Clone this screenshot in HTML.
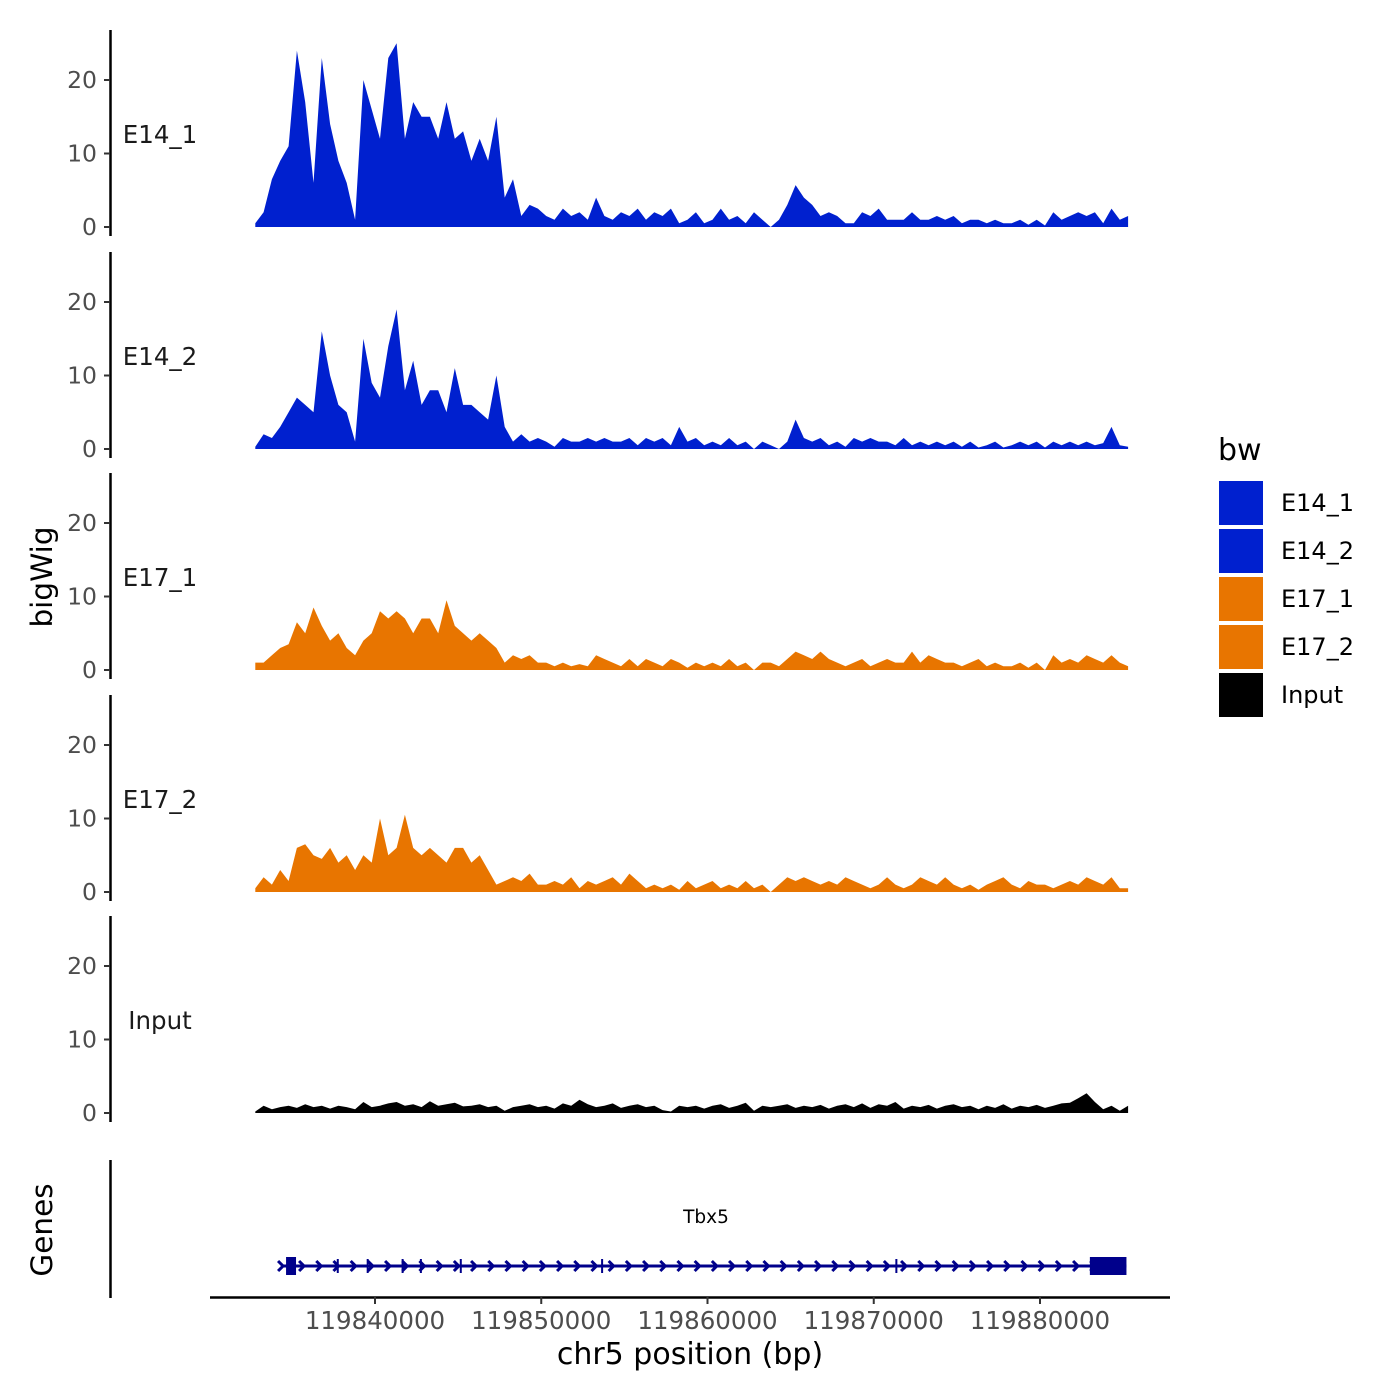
<!DOCTYPE html>
<html><head><meta charset="utf-8"><style>
body{margin:0;background:#fff}
svg{display:block;font-family:"DejaVu Sans","Liberation Sans",sans-serif}
</style></head><body>
<svg id="chart" width="1400" height="1400" viewBox="0 0 1400 1400">
<g id="panels"></g>
<g id="genes"></g>
<g id="xaxis"></g>
<text x="52" y="577" font-size="29.5" text-anchor="middle" transform="rotate(-90 52 577)">bigWig</text>
<text x="52" y="1230" font-size="29.5" text-anchor="middle" transform="rotate(-90 52 1230)">Genes</text>
<text x="690" y="1364" font-size="30" text-anchor="middle">chr5 position (bp)</text>
<g id="legend"></g>
</svg>
<script>
const binStart = 119832800;
const binSize = 500;
const trackNames = ["E14_1","E14_2","E17_1","E17_2","Input"];
const trackColors = ["#0020CF","#0020CF","#E87500","#E87500","#000000"];
const legendNames = ["E14_1","E14_2","E17_1","E17_2","Input"];
const yTicks = [0,10,20];
const xTicks = [119840000,119850000,119860000,119870000,119880000];
const xTickLabels = ["119840000","119850000","119860000","119870000","119880000"];
const e14_1 = [0.5,2,6.5,9,11,24,17,6,23,14,9,6,1,20,16,12,23,25,12,17,15,15,12,17,12,13,9,12,9,15,4,6.5,1.5,3,2.5,1.5,1,2.5,1.5,2,1,4,1.5,1,2,1.5,2.5,1,2,1.5,2.5,0.5,1,2,0.5,1,2.5,1,1.5,0.5,2,1,0,1,3,5.7,4,3,1.5,2,1.5,0.5,0.5,2,1.5,2.5,1,1,1,2,1,1,1.5,1,1.5,0.5,1,1,0.5,1,0.5,0.5,1,0.3,1,0.2,2,1,1.5,2,1.5,2,0.5,2.5,1,1.5];
const e14_2 = [0.3,2,1.5,3,5,7,6,5,16,10,6,5,1,15,9,7,14,19,8,12,6,8,8,5,11,6,6,5,4,10,3,1,2,1,1.5,1,0.3,1.5,1,1,1.5,1,1.5,1,1,1.5,0.5,1.5,1,1.5,0.5,3,1,1.5,0.5,1,0.5,1.5,0.5,1,0,1,0.5,0,1,4,1.5,1,1.5,0.5,1,0.3,1.5,1,1.5,1,1,0.5,1.5,0.5,1,0.5,1,0.5,1,0.3,1,0.2,0.5,1,0.2,0.5,1,0.5,1,0.2,1,0.5,1,0.5,1,0.5,0.8,3,0.5,0.3];
const e17_1 = [1,1,2,3,3.5,6.5,5,8.5,6,4,5,3,2,4,5,8,7,8,7,5,7,7,5,9.5,6,5,4,5,4,3,1,2,1.5,2,1,1,0.5,1,0.5,0.8,0.5,2,1.5,1,0.5,1.5,0.5,1.5,1,0.5,1.5,1,0.3,1,0.5,1,0.5,1.5,0.5,1,0,1,1,0.5,1.5,2.5,2,1.5,2.5,1.5,1,0.5,1,1.5,0.5,1,1.5,1,1,2.5,1,2,1.5,1,1,0.5,1,1.5,0.5,1,0.5,0.5,1,0.3,1,0,2,1,1.5,1,2,1.5,1,2,1,0.5];
const e17_2 = [0.5,2,1,3,1.5,6,6.5,5,4.5,6,4,5,3,5,4,10,5,6,10.5,6,5,6,5,4,6,6,4,5,3,1,1.5,2,1.5,2.5,1,1,1.5,1,2,0.5,1.5,1,1.5,2,1,2.5,1.5,0.5,1,0.5,1,0.3,1.5,0.5,1,1.5,0.5,1,0.5,1.5,0.5,1,0,1,2,1.5,2,1.5,1,1.5,1,2,1.5,1,0.5,1,2,1,0.5,1,2,1.5,1,2,1,0.5,1,0.3,1,1.5,2,1,0.5,1.5,1,1,0.5,1,1.5,1,2,1.5,1,2,0.5,0.5];
const input = [0.2,1,0.5,0.8,1,0.7,1.2,0.8,1,0.6,1,0.8,0.5,1.5,0.8,1,1.3,1.5,1,1.2,0.8,1.6,1,1.2,1.4,0.9,1,1.2,0.8,1,0.3,0.8,1,1.2,0.8,1,0.6,1.3,1,1.8,1.2,0.8,1,1.3,0.7,1,1.2,0.8,1,0.4,0.2,1,0.8,1,0.6,1,1.2,0.7,1,1.4,0.3,1,0.8,1,1.2,0.7,1,0.8,1.1,0.6,1,1.2,0.8,1.3,0.7,1.2,1,1.5,0.6,1,0.8,1.1,0.6,1,1.2,0.8,1,0.5,1,0.7,1.2,0.6,1,0.8,1.1,0.7,1,1.3,1.4,2,2.7,1.5,0.5,1,0.3,1];
const trackValues = [e14_1,e14_2,e17_1,e17_2,input];
const geneStart = 119834650;
const geneEnd = 119885200;
const exonStarts = [119834650,119837700,119839500,119841600,119842700,119845100,119853600,119871300,119883000];
const exonEnds = [119835250,119837750,119839550,119841650,119842750,119845150,119853650,119871350,119885200];
const exonTall = [1,0,0,0,0,0,0,0,1];

const NS="http://www.w3.org/2000/svg";
function mk(tag,attrs,parent){const e=document.createElementNS(NS,tag);for(const k in attrs)e.setAttribute(k,attrs[k]);parent.appendChild(e);return e;}
function xs(bp){return 375+(bp-119840000)*(665/40000);}
const yScale=7.35;
const zeros=[227,449,670,892,1113];
const panels=document.getElementById('panels');
trackNames.forEach((name,t)=>{
  const z=zeros[t];
  const g=mk('g',{},panels);
  
  
  const ax=mk('line',{x1:110.5,x2:110.5,y1:z-197,y2:z+9,stroke:'#000','stroke-width':2.5},g);
  
  
  yTicks.forEach(v=>{
    const y=z-v*yScale;
    const tk=mk('line',{x1:104,x2:110,y1:y,y2:y,stroke:'#333','stroke-width':2},g);
    
    
    const tl=mk('text',{x:97,y:y+8,'font-size':23.5,fill:'#4d4d4d','text-anchor':'end'},g);
    tl.textContent=v;
    
    
  });
  const lb=mk('text',{x:160,y:z-84,'font-size':24.5,fill:'#1a1a1a','text-anchor':'middle'},g);
  lb.textContent=name;
  
  
  const vals=trackValues[t];
  let d='M'+xs(binStart).toFixed(1)+','+z;
  vals.forEach((v,i)=>{d+=' L'+xs(binStart+i*binSize).toFixed(1)+','+(z-v*yScale).toFixed(1);});
  d+=' L'+xs(binStart+(vals.length-1)*binSize).toFixed(1)+','+z+' Z';
  const p=mk('path',{d:d,fill:trackColors[t],stroke:'none'},g);
  
  
});
const gg=document.getElementById('genes');
const gax=mk('line',{x1:110.5,x2:110.5,y1:1160,y2:1298,stroke:'#000','stroke-width':2.5},gg);


const gy=1266;
const gl=mk('line',{x1:xs(geneStart)-4,x2:xs(geneEnd),y1:gy,y2:gy,stroke:'#00008B','stroke-width':3},gg);


for(let x=xs(geneStart)+16;x<xs(geneEnd)-30;x+=17.2){
  const a=mk('path',{d:`M${x-3},${gy-5} L${x+2},${gy} L${x-3},${gy+5}`,stroke:'#00008B','stroke-width':3,fill:'none'},gg);
  
  
}
mk('path',{d:`M${xs(geneStart)-8},${gy-5} L${xs(geneStart)-3},${gy} L${xs(geneStart)-8},${gy+5}`,stroke:'#00008B','stroke-width':3,fill:'none'},gg);
exonStarts.forEach((s,i)=>{
  const x1=xs(s),x2=Math.max(xs(exonEnds[i]),x1+2);
  const h=exonTall[i]?18:14;
  const r=mk('rect',{x:x1,y:gy-h/2,width:x2-x1,height:h,fill:'#00008B'},gg);
  
  
});
const gt=mk('text',{x:706,y:1223,'font-size':18.5,fill:'#000','text-anchor':'middle'},gg);
gt.textContent='Tbx5';


const xa=document.getElementById('xaxis');
mk('line',{x1:210,x2:1170,y1:1297.5,y2:1297.5,stroke:'#000','stroke-width':2.5},xa);
xTicks.forEach((b,i)=>{
  const x=xs(b);
  const t=mk('line',{x1:x,x2:x,y1:1297,y2:1304,stroke:'#333','stroke-width':2},xa);
  
  
  const l=mk('text',{x:x,y:1329,'font-size':24.5,fill:'#4d4d4d','text-anchor':'middle'},xa);
  l.textContent=xTickLabels[i];
  
  
});
const lg=document.getElementById('legend');
const lt=mk('text',{x:1218,y:460,'font-size':30,fill:'#000'},lg);
lt.textContent='bw';


legendNames.forEach((n,i)=>{
  const y=481+i*48;
  const r=mk('rect',{x:1219,y:y,width:44,height:44,fill:trackColors[i]},lg);
  
  
  const t=mk('text',{x:1281,y:y+30,'font-size':24,fill:'#000'},lg);
  t.textContent=n;
  
  
});
</script>
</body></html>
